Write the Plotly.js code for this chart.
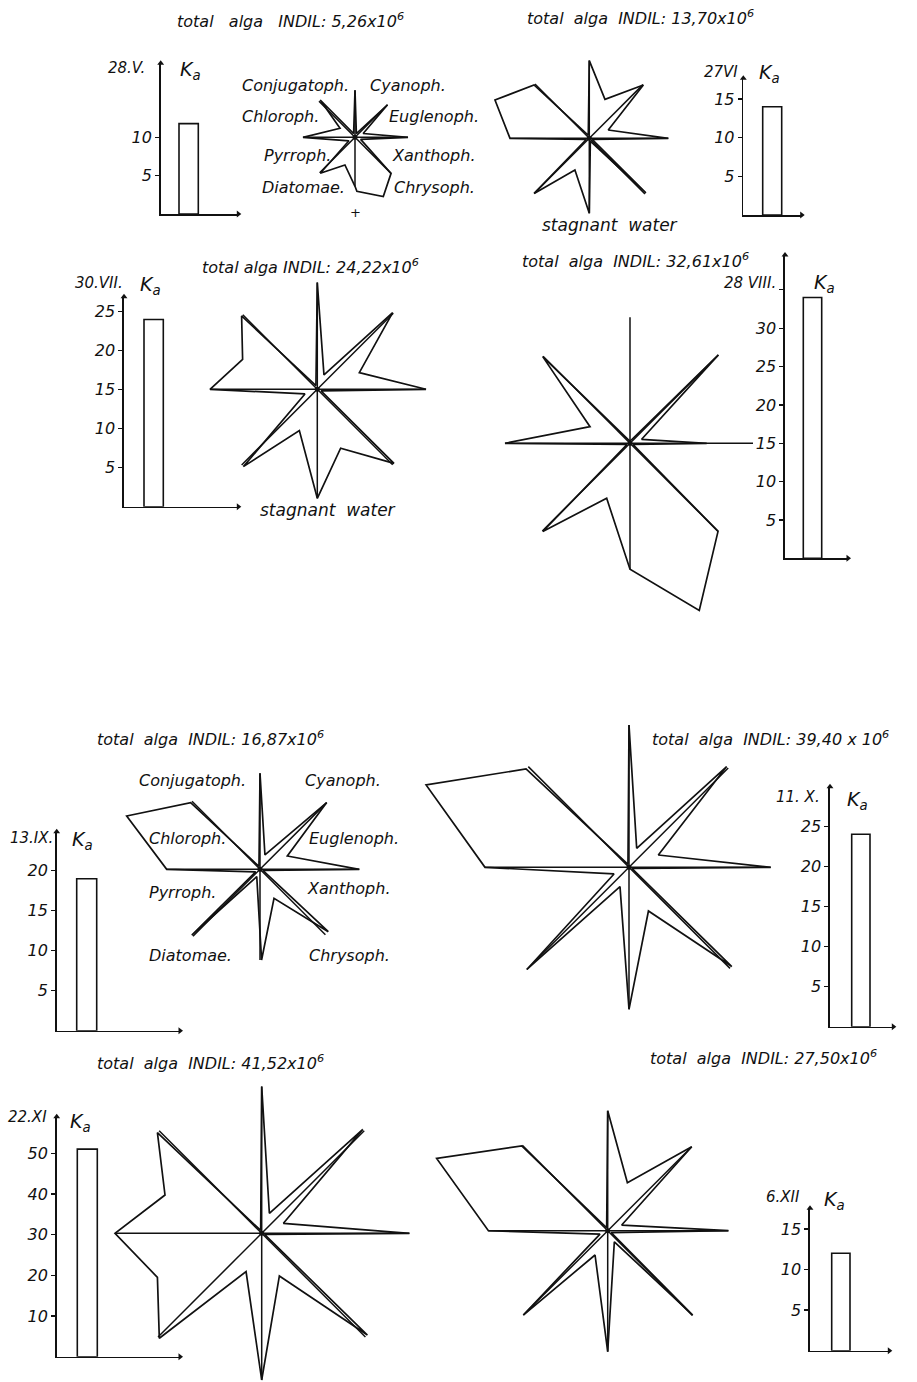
<!DOCTYPE html>
<html>
<head>
<meta charset="utf-8">
<script src="https://cdn.plot.ly/plotly-3.0.1.min.js"></script>
<style>
  body { margin: 0; background: #fff; }
  #chart { width: 917px; height: 1382px; }
</style>
</head>
<body>
<div id="chart"></div>
<script>
// sampling dates and K_a bar values
const dates = ['28.V.', '27VI', '30.VII.', '28 VIII.', '13.IX.', '11. X.', '22.XI', '6.XII'];
const kaValues = [11.8, 14, 24, 34, 19, 24, 51, 12];
const kaTicks = [
    [5, 10],
    [5, 10, 15],
    [5, 10, 15, 20, 25],
    [5, 10, 15, 20, 25, 30, 35],
    [5, 10, 15, 20],
    [5, 10, 15, 20, 25],
    [10, 20, 30, 40, 50],
    [5, 10, 15]
];
const kaTickText = [
    ['5', '10'],
    ['5', '10', '15'],
    ['5', '10', '15', '20', '25'],
    ['5', '10', '15', '20', '25', '30', ''],
    ['5', '10', '15', '20'],
    ['5', '10', '15', '20', '25'],
    ['10', '20', '30', '40', '50'],
    ['5', '10', '15']
];
const totals = ['5,26x10', '13,70x10', '24,22x10', '32,61x10', '16,87x10', '39,40 x 10', '41,52x10', '27,50x10'];
const groups = ['Conjugatoph.', 'Cyanoph.', 'Chloroph.', 'Euglenoph.', 'Pyrroph.', 'Xanthoph.', 'Diatomae.', 'Chrysoph.'];

// star diagrams: axis lengths (N, NE, E, SE, S, SW, W, NW) and outline vertices [bearing deg, radius]
const spokeLen = [
    [47, 46, 53, 51, 49, 50, 52, 51],
    [77.7, 75.9, 79, 78.7, 75, 78, 79.3, 76.8],
    [106.7, 107.5, 108.7, 106.6, 109, 107, 107.3, 105.4],
    [126, 125, 123, 124.5, 126, 124, 125, 123],
    [96, 94.3, 99.3, 92.5, 90.7, 94.8, 93.3, 96.2],
    [142.3, 140.3, 141.7, 142.9, 142, 144.5, 144, 142.4],
    [146.7, 145, 147.7, 146.7, 146.7, 146.6, 146.7, 145],
    [120, 118.8, 120.7, 119.8, 121, 119.3, 119.3, 120.7]
];
const outlines = [
    [[0, 47], [20, 4], [45, 46], [65, 9], [90, 53], [110, 6], [135, 51], [154.5, 65.7], [178, 54], [180, 49],
     [200, 29.4], [224, 50], [240, 7], [270, 52], [301, 17.5], [317, 51], [340, 4]],
    [[0, 77.7], [21.9, 42], [45.4, 75.9], [66.3, 20.7], [90, 79], [110, 3], [134, 78.7], [160, 3], [180, 75],
     [204.4, 34.8], [225, 78], [250, 3], [270, 79.3], [292.1, 101.8], [314, 76.8], [340, 3]],
    [[0, 106.7], [25, 15.8], [44.5, 107.5], [68.4, 45.2], [90, 108.7], [112, 4], [134, 106.6], [158.4, 63.4],
     [180, 109], [203.5, 45], [223.7, 107], [249.3, 13.2], [270, 107.3], [291.9, 80.5], [314.1, 105.4], [340, 4]],
    [[20, 3], [45, 125], [71, 12.3], [90, 76.7], [110, 3], [135, 124.5], [157.5, 181], [180, 126], [203, 59.7],
     [224.7, 124], [250, 3], [270, 125], [292.6, 43.3], [314.8, 123], [340, 3]],
    [[0, 96], [19, 15.2], [45, 94.3], [64, 30.4], [90, 99.3], [110, 3], [132.4, 92.5], [154.2, 32.2], [179, 90.7],
     [204, 8], [226, 94.8], [240, 5], [270, 93.3], [291.8, 143.6], [313.9, 96.2], [340, 3]],
    [[0, 142.3], [22, 20.5], [44.1, 140.3], [67.2, 31.8], [90, 141.7], [110, 3], [134, 142.9], [156, 47.8],
     [180, 142], [205, 21.3], [225, 144.5], [246, 16.4], [270, 144], [292.1, 219], [313.7, 142.4], [340, 3]],
    [[0, 146.7], [21, 21.4], [44.2, 145], [65.2, 23.9], [90, 147.7], [112, 3], [133.9, 146.7], [157.5, 46.2],
     [180, 146.7], [202.2, 41.4], [224.3, 146.6], [247.1, 113.2], [270, 146.7], [291.6, 104], [314, 145], [340, 3]],
    [[0, 120], [22.3, 51.9], [45, 118.8], [68, 15.1], [90, 120.7], [120, 4], [134.8, 119.8], [149, 12.9],
     [180, 121], [207.5, 27.4], [225, 119.3], [246.5, 8.4], [270, 119.3], [292.9, 185.7], [314.6, 120.7], [340, 3]]
];

// page placement (pixels)
const W = 917, H = 1382;
const starPos = [[355, 137.3], [589.3, 138.3], [317.3, 389.3], [630, 443.3], [260, 869.3], [629, 867.3], [261.7, 1233.3], [607.7, 1230.7]];
// axisX, baseline, axisTop, px per unit, x-axis end, bar left, bar right
const barPos = [
    [160.7, 214, 63.3, 7.66, 238.3, 179, 198.3],
    [743.3, 215, 78.3, 7.73, 801.7, 762.7, 781.7],
    [124, 506.7, 296.7, 7.8, 238.3, 144, 163.3],
    [785, 558.3, 255, 7.67, 848, 803.3, 821.7],
    [56.7, 1030.7, 831.7, 8, 180, 76.7, 96.7],
    [830, 1026.7, 786.7, 8.02, 893.3, 851.7, 870],
    [56.7, 1356.7, 1116.7, 4.07, 180, 77.3, 97.3],
    [810, 1350.7, 1208.3, 8.12, 889.3, 831.7, 850]
];
const titlePos = [[175, 20], [525, 18], [200, 266], [520, 260], [95, 738], [650, 738], [95, 1062], [648, 1057]];
const titleGap = [3, 2, 1, 2, 2, 2, 2, 2];   // hand-lettered word spacing
const datePos = [[106, 68, 178, 70], [702, 72, 757, 74], [73, 283, 138, 285], [722, 283, 812, 283],
                 [8, 838, 70, 840], [774, 797, 845, 800], [6, 1117, 68, 1122], [764, 1197, 822, 1200]];
const groupPos = [
    [[240, 85], [368, 85], [240, 116], [387, 116], [262, 155], [390, 155], [260, 187], [392, 187]],
    [[137, 780], [303, 780], [147, 838], [307, 838], [147, 892], [305, 888], [147, 955], [307, 955]]
];

const FONT = 'DejaVu Sans, Liberation Sans, sans-serif';
const fx = px => px / W;
const fy = py => 1 - py / H;

const traces = [];
const layout = {
    width: W, height: H,
    margin: { l: 0, r: 0, t: 0, b: 0 },
    paper_bgcolor: '#fff', plot_bgcolor: 'rgba(0,0,0,0)',
    showlegend: false,
    annotations: []
};

function note(text, x, y, size, anchor) {
    layout.annotations.push({
        text: text, x: fx(x), y: fy(y), xref: 'paper', yref: 'paper',
        xanchor: anchor || 'left', yanchor: 'middle', showarrow: false,
        font: { family: FONT, size: size, color: '#111', style: 'italic' }
    });
}

for (let i = 0; i < 8; i++) {
    // bar chart of K_a
    const bn = 2 * i + 1;
    const [ax, base, top, ppu, xEnd, bl, br] = barPos[i];
    const yTop = (base - top) / ppu;
    layout['xaxis' + bn] = {
        domain: [fx(ax), fx(xEnd)], range: [0, xEnd - ax], anchor: 'y' + bn,
        showline: true, linecolor: '#111', linewidth: 1.6, showgrid: false, zeroline: false,
        showticklabels: false, ticks: '', fixedrange: true
    };
    layout['yaxis' + bn] = {
        domain: [fy(base), fy(top)], range: [0, yTop], anchor: 'x' + bn,
        showline: true, linecolor: '#111', linewidth: 1.6, showgrid: false, zeroline: false,
        ticks: 'outside', ticklen: 4, tickwidth: 1.2, tickcolor: '#111',
        tickvals: kaTicks[i], ticktext: kaTickText[i],
        tickfont: { family: FONT, size: 16, color: '#111', style: 'italic' }, fixedrange: true
    };
    traces.push({
        type: 'bar', x: [(bl + br) / 2 - ax], y: [kaValues[i]], width: [br - bl],
        xaxis: 'x' + bn, yaxis: 'y' + bn,
        marker: { color: '#fff', line: { color: '#111', width: 1.6 } }, hoverinfo: 'y'
    });
    // arrow heads at the axis ends
    traces.push({
        type: 'scatter', mode: 'markers', x: [0, xEnd - ax], y: [yTop, 0],
        xaxis: 'x' + bn, yaxis: 'y' + bn, cliponaxis: false,
        marker: { symbol: ['triangle-up', 'triangle-right'], size: 6, color: '#111' }, hoverinfo: 'skip'
    });
    note(dates[i], datePos[i][0], datePos[i][1], 15);
    note('K<sub>a</sub>', datePos[i][2], datePos[i][3], 19);

    // star diagram
    const sn = 2 * i + 2;
    const [cx, cy] = starPos[i];
    const rMax = Math.max(...spokeLen[i], ...outlines[i].map(v => v[1])) + 8;
    const x0 = Math.max(0, cx - rMax), x1 = Math.min(W, cx + rMax);
    const y0 = Math.max(0, cy - rMax), y1 = Math.min(H, cy + rMax);
    layout['xaxis' + sn] = { domain: [fx(x0), fx(x1)], range: [x0 - cx, x1 - cx], visible: false, fixedrange: true, anchor: 'y' + sn };
    layout['yaxis' + sn] = { domain: [fy(y1), fy(y0)], range: [cy - y1, cy - y0], visible: false, fixedrange: true, anchor: 'x' + sn };

    const sx = [], sy = [];
    spokeLen[i].forEach((r, k) => {
        const a = k * 45 * Math.PI / 180;
        sx.push(0, r * Math.sin(a), null);
        sy.push(0, r * Math.cos(a), null);
    });
    traces.push({
        type: 'scatter', mode: 'lines', x: sx, y: sy, xaxis: 'x' + sn, yaxis: 'y' + sn,
        line: { color: '#111', width: 1.5 }, hoverinfo: 'skip'
    });
    const pts = outlines[i].concat([outlines[i][0]]);
    traces.push({
        type: 'scatter', mode: 'lines',
        x: pts.map(v => v[1] * Math.sin(v[0] * Math.PI / 180)),
        y: pts.map(v => v[1] * Math.cos(v[0] * Math.PI / 180)),
        xaxis: 'x' + sn, yaxis: 'y' + sn,
        line: { color: '#111', width: 1.7 }, hoverinfo: 'skip'
    });
    traces.push({
        type: 'scatter', mode: 'markers', x: [0], y: [0], xaxis: 'x' + sn, yaxis: 'y' + sn,
        marker: { color: '#111', size: 5 }, hoverinfo: 'skip'
    });

    const g = '\u00a0'.repeat(titleGap[i]);
    note('total' + g + 'alga' + g + 'INDIL: ' + totals[i] + '<sup>6</sup>', titlePos[i][0], titlePos[i][1], 16);
}

// group names around the first star of each half
groupPos.forEach(pos => pos.forEach((p, k) => note(groups[k], p[0], p[1], 16)));
note('stagnant\u00a0 water', 540, 225, 17);
note('stagnant\u00a0 water', 258, 510, 17);
note('+', 355, 212, 13, 'center');

Plotly.newPlot('chart', traces, layout, { staticPlot: true });
</script>
</body>
</html>
